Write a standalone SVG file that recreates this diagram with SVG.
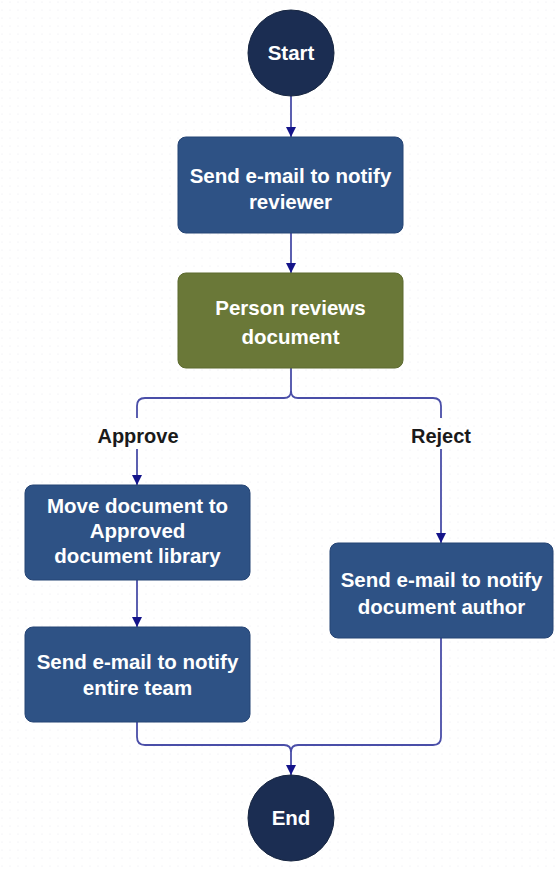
<svg xmlns="http://www.w3.org/2000/svg" width="557" height="870" viewBox="0 0 557 870">
  <style>
    .task { fill: #2e5285; stroke: #254474; stroke-width: 1; }
    .review { fill: #6a7838; stroke: #5c6a2f; stroke-width: 1; }
    .terminal { fill: #1b2d52; stroke: #15243f; stroke-width: 1; }
    .label { font-family: "Liberation Sans", Arial, sans-serif; font-weight: bold; font-size: 20.5px; fill: #ffffff; text-anchor: middle; }
    .branch { font-family: "Liberation Sans", Arial, sans-serif; font-weight: bold; font-size: 20px; fill: #1a1a1a; text-anchor: middle; }
    .wire { fill: none; stroke: #4a4ea8; stroke-width: 1.8; }
  </style>
  <defs>
    <pattern id="dots" width="8" height="8" patternUnits="userSpaceOnUse">
      <circle cx="2" cy="2" r="0.6" fill="#e6e8ee"/>
    </pattern>
    <marker id="head" viewBox="0 0 10 10" refX="10" refY="5" markerWidth="10" markerHeight="10" markerUnits="userSpaceOnUse" orient="auto">
      <path d="M0,0 L10,5 L0,10 Z" fill="#14148a"/>
    </marker>
  </defs>

  <rect width="557" height="870" fill="#ffffff"/>
  <rect width="557" height="870" fill="url(#dots)"/>

  <!-- connectors -->
  <g id="connectors">
    <path class="wire" d="M291 96 V137" marker-end="url(#head)"/>
    <path class="wire" d="M291 233 V273" marker-end="url(#head)"/>
    <!-- decision split -->
    <path class="wire" d="M291 368 V391 Q291 398 284 398 H145 Q137 398 137 406 V418"/>
    <path class="wire" d="M291 391 Q291 398 298 398 H433 Q441 398 441 406 V418"/>
    <path class="wire" d="M137 449 V485" marker-end="url(#head)"/>
    <path class="wire" d="M441 449 V543" marker-end="url(#head)"/>
    <path class="wire" d="M137 580 V627" marker-end="url(#head)"/>
    <!-- merge into End -->
    <path class="wire" d="M137 722 V737 Q137 745 145 745 H284 Q291 745 291 752 V775" marker-end="url(#head)"/>
    <path class="wire" d="M441 638 V737 Q441 745 433 745 H298 Q291 745 291 752"/>
    <text class="branch" x="138" y="443">Approve</text>
    <text class="branch" x="441" y="443">Reject</text>
  </g>

  <g id="start">
    <circle class="terminal" cx="291" cy="53" r="43"/>
    <text class="label" x="291" y="60">Start</text>
  </g>

  <g id="notify-reviewer">
    <rect class="task" x="178" y="137" width="225" height="96" rx="8"/>
    <text class="label" x="290.5" y="183">Send e-mail to notify</text>
    <text class="label" x="290.5" y="209">reviewer</text>
  </g>

  <g id="person-reviews">
    <rect class="review" x="178" y="273" width="225" height="95" rx="8"/>
    <text class="label" x="290.5" y="315">Person reviews</text>
    <text class="label" x="290.5" y="344">document</text>
  </g>

  <g id="move-document">
    <rect class="task" x="25" y="485" width="225" height="95" rx="8"/>
    <text class="label" x="137.5" y="513">Move document to</text>
    <text class="label" x="137.5" y="538">Approved</text>
    <text class="label" x="137.5" y="563">document library</text>
  </g>

  <g id="notify-team">
    <rect class="task" x="25" y="627" width="225" height="95" rx="8"/>
    <text class="label" x="137.5" y="669">Send e-mail to notify</text>
    <text class="label" x="137.5" y="695">entire team</text>
  </g>

  <g id="notify-author">
    <rect class="task" x="330" y="543" width="223" height="95" rx="8"/>
    <text class="label" x="441.5" y="587">Send e-mail to notify</text>
    <text class="label" x="441.5" y="614">document author</text>
  </g>

  <g id="end">
    <circle class="terminal" cx="291" cy="818" r="43"/>
    <text class="label" x="291" y="825">End</text>
  </g>
</svg>
